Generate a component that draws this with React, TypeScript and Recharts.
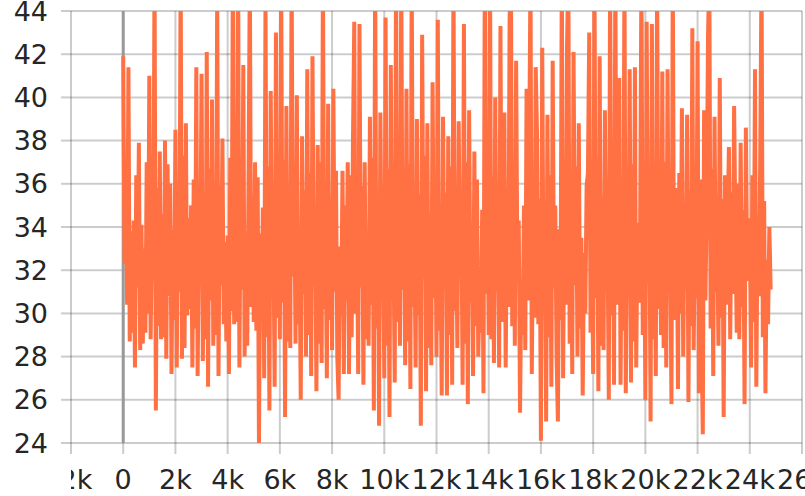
import React from 'react';
import { LineChart, Line, XAxis, YAxis, CartesianGrid, ReferenceLine } from 'recharts';

// sample spacing along x
const xStart = 0;
const xStep = 50;

// values, 0 .. 24800 (the dense band points are estimates)
const values: number[] = [
  41.9, 32.3, 35.2, 30.4, 41.4, 28.7, 33.8, 29.1,
  34.3, 27.5, 36.4, 31.2, 37.9, 28.3, 34.1, 28.6,
  33.0, 29.1, 37.0, 30.0, 41.0, 28.8, 33.5, 31.5,
  46, 25.5, 35.8, 29.4, 37.5, 28.8, 34.6, 28.9,
  38.0, 27.9, 36.9, 30.8, 36.0, 27.2, 33.9, 29.7,
  38.5, 27.5, 35.1, 31.0, 46, 27.9, 37.3, 28.4,
  38.8, 29.9, 34.4, 30.2, 35.0, 27.5, 36.2, 29.3,
  41.4, 27.1, 33.6, 31.6, 41.1, 27.8, 35.5, 28.8,
  42.1, 26.6, 36.7, 30.6, 39.9, 28.5, 34.0, 29.0,
  45, 27.1, 35.9, 31.3, 38.1, 29.5, 33.3, 28.7,
  33.6, 27.2, 37.2, 30.1, 46, 29.5, 34.8, 29.6,
  47, 27.5, 36.0, 31.1, 41.5, 28.0, 33.7, 28.5,
  36, 46, 30.3, 35.4, 29.6, 37.0, 29.2, 36.3,
  24.0, 33.7, 30.7, 34.9, 27.0, 44.5, 28.9, 36.8,
  25.5, 40.3, 31.4, 33.9, 26.6, 43.0, 29.8, 35.6,
  28.8, 46, 30.5, 37.1, 25.2, 39.6, 28.7, 34.3,
  28.4, 46, 31.7, 36.1, 28.6, 40.1, 29.5, 33.4,
  26.0, 38.2, 30.9, 35.7, 28.0, 41.3, 29.0, 36.5,
  27.1, 41.9, 31.3, 34.7, 26.4, 37.8, 28.6, 37.0,
  27.7, 46, 30.2, 33.8, 27.0, 39.7, 29.7, 35.3,
  28.3, 40.4, 31.0, 36.6, 28.0, 26.0, 33.1, 29.9,
  36.6, 27.2, 35.0, 30.6, 37.0, 27.2, 36.4, 28.9,
  38.0, 43.5, 30.0, 34.5, 27.2, 43.4, 31.2, 35.9,
  26.7, 37.0, 28.8, 33.6, 28.5, 39.1, 30.4, 37.2,
  25.5, 46, 29.3, 35.2, 24.8, 39.3, 31.5, 34.0,
  27.0, 43.7, 28.5, 36.7, 25.2, 41.5, 30.8, 33.5,
  26.8, 46, 29.6, 35.8, 28.5, 46, 31.1, 34.2,
  27.6, 40.4, 28.7, 36.9, 26.5, 46, 30.3, 33.7,
  27.5, 39.0, 29.9, 35.5, 24.8, 42.9, 31.6, 37.3,
  26.4, 38.8, 28.4, 34.6, 27.6, 40.7, 30.7, 36.0,
  28.0, 43.6, 29.2, 33.3, 26.2, 39.1, 31.4, 35.6,
  26.2, 38.2, 29.0, 36.8, 26.7, 46, 30.1, 34.1,
  28.4, 38.9, 31.8, 35.1, 26.7, 43.4, 28.6, 37.0,
  25.8, 39.4, 30.5, 33.9, 27.1, 37.5, 29.4, 36.2,
  28.0, 31.4, 29.1, 34.8, 26.3, 46, 30.9, 35.7,
  29.0, 46, 28.8, 36.3, 27.7, 40.0, 31.0, 33.6,
  27.5, 43.3, 29.6, 34.9, 39.3, 27.5, 35.8, 30.3,
  43.6, 46, 29.4, 36.6, 28.5, 41.7, 31.5, 34.3,
  25.4, 31.5, 29.0, 35.0, 28.3, 40.4, 30.6, 37.1,
  46, 27.2, 34.4, 29.8, 41.4, 38.4, 29.5, 35.3,
  24.1, 42.3, 30.8, 33.8, 25.0, 39.2, 28.9, 36.4,
  26.6, 41.7, 31.2, 35.0, 28.0, 25.0, 33.9, 29.7,
  46, 27.0, 36.1, 30.4, 42.4, 46, 28.6, 34.7,
  27.2, 42.1, 31.3, 36.8, 28.0, 38.8, 29.3, 33.5,
  26.2, 32.8, 30.0, 35.9, 36.5, 43.0, 29.1, 34.0,
  27.2, 46, 30.7, 37.2, 26.4, 41.9, 28.5, 35.4,
  28.3, 39.4, 31.6, 33.7, 26.0, 46, 29.9, 36.0,
  26.7, 46, 30.4, 34.6, 40.9, 26.7, 35.5, 29.2,
  46, 26.3, 33.4, 31.0, 41.3, 26.8, 36.9, 28.7,
  41.4, 27.5, 34.2, 30.5, 33.8, 46, 29.0, 35.6,
  26.0, 43.5, 31.4, 36.3, 25.0, 43.4, 28.8, 34.0,
  27.1, 46, 30.2, 35.1, 29.0, 41.2, 28.4, 37.0,
  27.5, 41.3, 31.1, 33.6, 25.8, 46, 29.7, 35.8,
  34.9, 26.5, 36.5, 30.0, 39.5, 28.0, 34.3, 31.5,
  39.2, 25.9, 35.7, 29.4, 43.2, 28.3, 33.9, 30.7,
  42.6, 26.3, 36.2, 28.9, 24.4, 39.4, 30.6, 35.0,
  42.8, 46, 29.3, 36.7, 27.1, 39.1, 31.0, 33.9,
  28.5, 40.9, 29.8, 35.3, 25.2, 36.4, 30.4, 34.1,
  37.7, 28.8, 35.6, 30.9, 39.6, 33.7, 29.1, 36.0,
  28.8, 37.9, 30.3, 34.8, 25.8, 38.6, 31.5, 33.5,
  34.4, 27.5, 36.4, 29.6, 41.3, 26.6, 34.5, 30.8,
  37.2, 46, 28.9, 35.2, 26.3, 32.5, 29.5, 34.0,
  31.1,
];

const xTicks = [-2000, 0, 2000, 4000, 6000, 8000, 10000, 12000, 14000, 16000, 18000, 20000, 22000, 24000, 26000];
const yTicks = [24, 26, 28, 30, 32, 34, 36, 38, 40, 42, 44];

const data = values.map((v, i) => ({ x: xStart + i * xStep, y: v }));

const Y_AXIS_WIDTH = 71;
const gridColor = 'rgba(0,0,0,0.2)';
const textColor = '#262626';
const font = 'DejaVu Sans, sans-serif';

const fmtX = (v: number) => (v === 0 ? '0' : `${v / 1000}k`);

// x labels get cut at the left edge of the plot, like in the original
const XTick = (props: any) => {
  const { x, y, payload } = props;
  const id = `xclip-${payload.value}`;
  return (
    <g>
      <defs>
        <clipPath id={id}>
          <rect x={Y_AXIS_WIDTH} y={y - 30} width={2000} height={100} />
        </clipPath>
      </defs>
      <text
        x={x}
        y={y}
        dy="0.71em"
        textAnchor="middle"
        fill={textColor}
        fontSize={27}
        fontFamily={font}
        clipPath={`url(#${id})`}
      >
        {fmtX(payload.value)}
      </text>
    </g>
  );
};

export default function App() {
  return (
    <div style={{ position: 'absolute', left: 0, top: 0, width: 805, height: 496, overflow: 'hidden', background: '#fff' }}>
      <LineChart width={840} height={496} data={data} margin={{ top: 11, right: 38, bottom: 0, left: 0 }}>
        <CartesianGrid stroke={gridColor} strokeWidth={2} />
        <XAxis
          type="number"
          dataKey="x"
          domain={[-2000, 26000]}
          ticks={xTicks}
          interval={0}
          height={53}
          axisLine={false}
          tickSize={11}
          tickMargin={16}
          tickLine={{ stroke: gridColor, strokeWidth: 2 }}
          tick={<XTick />}
        />
        <YAxis
          type="number"
          domain={[24, 44]}
          ticks={yTicks}
          interval={0}
          allowDataOverflow
          width={Y_AXIS_WIDTH}
          axisLine={false}
          tickSize={10}
          tickMargin={13}
          tickLine={{ stroke: gridColor, strokeWidth: 2 }}
          tick={{ fill: textColor, fontSize: 27, fontFamily: font }}
        />
        <ReferenceLine x={0} stroke="#999" strokeWidth={3} />
        <Line
          type="linear"
          dataKey="y"
          stroke="#FF7043"
          strokeWidth={4}
          dot={false}
          isAnimationActive={false}
        />
      </LineChart>
    </div>
  );
}
